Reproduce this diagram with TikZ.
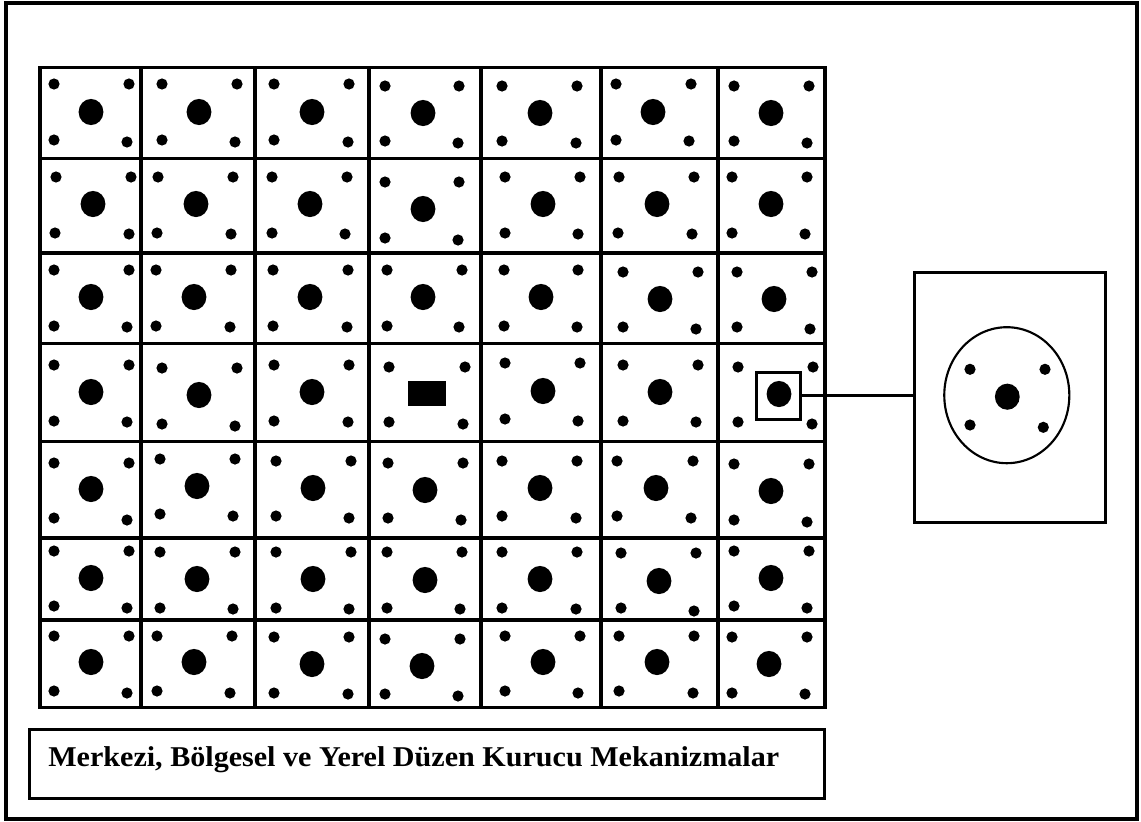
\documentclass[tikz,border=0pt]{standalone}
\usepackage{fontspec}
\setmainfont{Liberation Serif}
\newfontfamily\capfont[FakeStretch=1.05]{Liberation Serif}
\usetikzlibrary{shapes.geometric}
\begin{document}
\begin{tikzpicture}[x=0.75pt,y=-0.75pt,
  gridline/.style={line width=2.3pt,line cap=rect},
  frameline/.style={line width=3pt},
  smalldot/.style={fill=black},
  bigdot/.style={fill=black},
  capbox/.style={draw,line width=2pt,inner sep=0pt,anchor=north west},
  zoombox/.style={draw,line width=2.2pt,inner sep=0pt,minimum width=33pt,minimum height=35pt},
  panelbox/.style={draw,line width=2.3pt,inner sep=0pt,minimum width=143.5pt,minimum height=187.7pt},
  ringshape/.style={draw,ellipse,line width=1.6pt,inner sep=0pt,minimum width=93.8pt,minimum height=102pt},
  link/.style={line width=2pt}]
\useasboundingbox (0,0) rectangle (1141,821);
% outer frame
\draw[frameline] (6,3) rectangle (1137,819);
% grid
\foreach \gx in {40,141,255,369,481,601,718,825}
  \draw[gridline] (\gx,67.7) -- (\gx,707.5);
\foreach \gy in {67.7,158.5,253,343.5,441.5,538,620,707.5}
  \draw[gridline] (40,\gy) -- (825,\gy);
% small dots: tl, tr, bl, br
\foreach \a/\b/\c/\d/\e/\f/\g/\h in {
54/84/129/84/54/140/127/142,
162/84/237/84/162/140/235/142,
274/84/349/84/274/140/348/142,
385/86/459/86/385/141/458/143,
502/86/577/86/502/141/576/143,
616/84/691/84/616/140/689/141,
734/86/809/86/734/141/807/143,
56/177/131/177/55/233/129/234,
158/177/233/177/157/233/231/234,
272/177/347/177/272/233/345/234,
385/182/459/182/385/238/458/240,
505/177/580/177/505/233/578/234,
619/177/694/177/618/233/692/234,
732/177/807/177/732/233/805/234,
54/270/129/270/54/326/127/327,
156/270/231/270/156/326/230/327,
273/270/348/270/273/326/347/327,
387/270/462/270/387/326/459/327,
504/270/578/270/504/326/577/327,
623/272/698/272/623/327/696/329,
737/272/812/272/737/327/810/329,
54/365/129/365/54/421/127/422,
162/368/237/368/162/424/235/426,
274/365/349/365/274/421/348/422,
389/367/465/367/389/422/463/424,
505/363/580/363/505/419/578/421,
623/365/698/365/623/421/696/422,
738/367/813/367/738/422/812/424,
54/463/129/463/54/518/127/520,
160/459/235/459/160/514/233/516,
276/461/351/461/276/516/349/518,
388/463/463/463/388/518/461/520,
502/461/577/461/502/516/576/518,
617/461/693/461/617/516/691/518,
734/464/809/464/734/520/807/522,
54/551/129/551/54/606/127/608,
160/552/235/552/160/608/233/609,
276/552/351/552/276/608/349/609,
387/552/462/552/387/608/460/609,
502/552/577/552/502/608/576/609,
621/553/696/553/621/608/694/611,
734/551/809/551/734/606/807/608,
54/636/129/636/54/691/127/693,
157/636/232/636/157/691/230/693,
274/637/349/637/274/693/348/694,
385/639/460/639/385/694/458/696,
505/636/580/636/505/691/578/693,
619/636/694/636/619/691/693/693,
732/637/807/637/732/693/805/694}
{
  \fill[smalldot] (\a,\b) circle[radius=4.2pt];
  \fill[smalldot] (\c,\d) circle[radius=4.2pt];
  \fill[smalldot] (\e,\f) circle[radius=4.2pt];
  \fill[smalldot] (\g,\h) circle[radius=4.2pt];
}
% big dots
\foreach \i/\j in {
91/112,199/112,312/112,423/113,540/113,653/112,771/113,
93/204,196/204,310/204,423/209,543/204,657/204,771/204,
91/297,194/297,310/297,423/297,541/297,660/299,774/299,
91/392,199/395,312/392,543/391,660/392,779/394,
91/489,197/486,313/488,425/490,540/488,656/488,771/491,
91/578,197/579,313/579,425/580,540/579,659/581,771/578,
91/662,194/662,312/664,422/666,543/662,657/662,769/664}
{
  \fill[bigdot] (\i,\j) ellipse[x radius=9.3pt,y radius=9.8pt];
}
% central rectangle
\fill[black] (408,381) rectangle (446,406);
% highlighted cell and enlarged view
\node[zoombox] (zb) at (778.7,395.8) {};
\node[panelbox] (panel) at (1010,397.2) {};
\node[ringshape] (ring) at (1006.8,395.2) {};
\fill[bigdot] (1007.3,396.7) ellipse[x radius=9.3pt,y radius=9.8pt];
\foreach \p/\q in {970/369.3,1045/369.3,970/425,1043.3/427.3}
  \fill[smalldot] (\p,\q) circle[radius=4.2pt];
\draw[link] (zb.east) -- (zb.east -| panel.west);
% caption
\node[capbox,minimum width=596.3pt,minimum height=51.5pt] (cap) at (28.3,728.3) {};
\node[anchor=base west,inner sep=0pt,font=\capfont\bfseries\fontsize{21.5pt}{25pt}\selectfont] (captext) at (48,766.7) {Merkezi, Bölgesel ve Yerel Düzen Kurucu Mekanizmalar};
\end{tikzpicture}
\end{document}
